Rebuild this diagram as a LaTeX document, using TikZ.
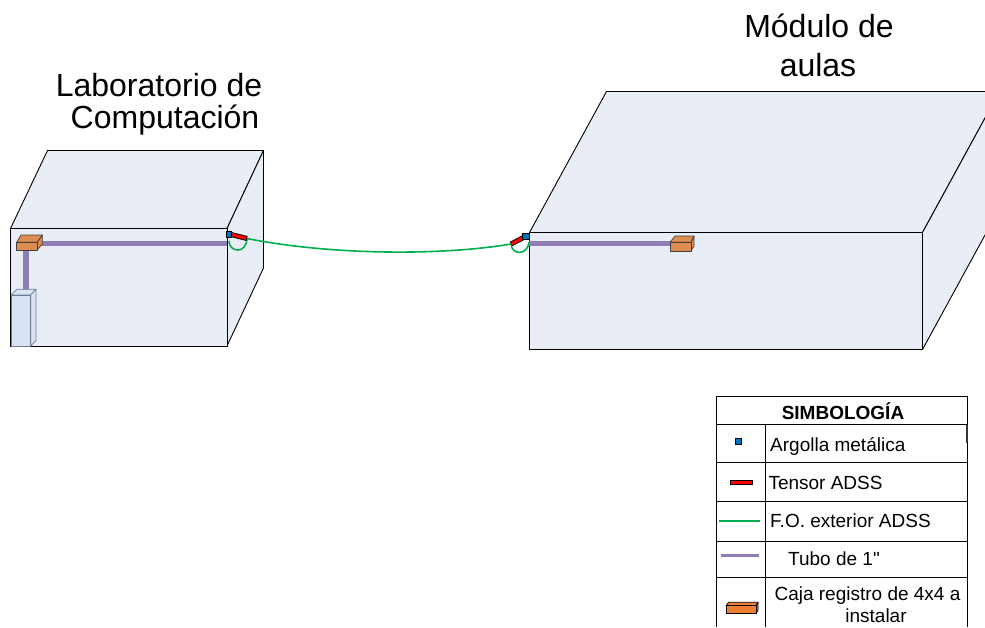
\documentclass[tikz,border=0pt]{standalone}
\usepackage{fontspec}
\setmainfont{Liberation Sans}
\newfontfamily\plainsans{Liberation Sans}[Ligatures=TeXOff]
\usetikzlibrary{calc}
\definecolor{boxfill}{RGB}{233,238,246}
\definecolor{tubepurple}{RGB}{143,126,180}
\definecolor{fibergreen}{RGB}{0,176,80}
\definecolor{cajaorange}{RGB}{222,140,80}
\definecolor{legorange}{RGB}{237,125,49}
\definecolor{ringblue}{RGB}{0,112,192}
\definecolor{rackfill}{RGB}{218,227,243}
\definecolor{rackedge}{RGB}{110,125,150}
\begin{document}
\begin{tikzpicture}[x=1pt,y=-1pt,
  wall/.style={draw=black,fill=boxfill,line width=0.9pt,line join=round},
  tube/.style={draw=tubepurple,line width=5.3pt},
  fiber/.style={draw=fibergreen,line width=1.6pt},
  caja/.style={draw=black!75,fill=cajaorange,line width=0.7pt,line join=round},
  rack/.style={draw=rackedge,fill=rackfill,line width=0.7pt,line join=round},
  ring/.style={draw=black,fill=ringblue,line width=0.6pt},
  tensorout/.style={draw=black,line width=5pt},
  tensorin/.style={draw=red,line width=3.2pt},
  grid/.style={draw=black,line width=0.8pt},
  title/.style={font=\fontsize{32}{32}\selectfont,anchor=base,inner sep=0pt},
  legtext/.style={font=\fontsize{19}{19}\selectfont,anchor=base west,inner sep=0pt},
]
\useasboundingbox (0,0) rectangle (985,627);

% ---- Laboratorio de Computación (left building)
\draw[wall] (10.5,228.5) -- (47.5,150.5) -- (263.5,150.5) -- (227,228.5) -- cycle;
\draw[wall] (227,228.5) -- (263.5,150.5) -- (263.5,268) -- (227,346) -- cycle;
\draw[wall] (10.5,228.5) rectangle (227,346);

% conduit inside the lab
\draw[tube] (37,243.5) -- (227,243.5);
\draw[tube] (26,249) -- (26,292);
% junction box
\draw[caja] (16.7,242.3) -- (21,235) -- (42.3,235) -- (37.3,242.3) -- cycle;
\draw[caja] (37.3,242.3) -- (42.3,235) -- (42.3,244) -- (37.3,250) -- cycle;
\draw[caja] (16.7,242.3) rectangle (37.3,250);
% rack cabinet
\draw[rack] (11,295) -- (16.7,289.3) -- (36,289.3) -- (30.7,295) -- cycle;
\draw[rack] (30.7,295) -- (36,289.3) -- (36,340.7) -- (30.7,346) -- cycle;
\draw[rack] (11,295) rectangle (30.7,346);

% ---- Módulo de aulas (right building)
\draw[wall] (529.5,232.5) -- (606.5,91.5) -- (999.5,91.5) -- (922.5,232.5) -- cycle;
\draw[wall] (922.5,232.5) -- (999.5,91.5) -- (999.5,208.5) -- (922.5,349.5) -- cycle;
\draw[wall] (529.5,232.5) rectangle (922.5,349.5);

\draw[tube] (529,243.5) -- (671,243.5);
\draw[caja] (670,242.3) -- (675,236) -- (694,236) -- (691,242.3) -- cycle;
\draw[caja] (691,242.3) -- (694,236) -- (694,246) -- (691,251) -- cycle;
\draw[caja] (670,242.3) rectangle (691,251);

% ---- anchoring points of the aerial fibre
\coordinate (ringL) at (229,234);
\coordinate (tensL) at (247,238.5);
\coordinate (ringR) at (525.5,236.5);
\coordinate (tensR) at (511,244);

% fibre span with slack loops
\draw[fiber] (tensL) .. controls (330,255) and (440,256) .. (tensR);
\draw[fiber] (tensL) .. controls (246,255) and (229,252) .. (229,241);
\draw[fiber] (tensR) .. controls (512,256) and (528,255) .. (529,242);

% tensors
\draw[tensorout] (ringL) -- (tensL);
\draw[tensorin] ($(ringL)!0.06!(tensL)$) -- ($(ringL)!0.96!(tensL)$);
\draw[tensorout] (ringR) -- (tensR);
\draw[tensorin] ($(ringR)!0.06!(tensR)$) -- ($(ringR)!0.96!(tensR)$);

% metal rings
\draw[ring] (226.5,231) rectangle (231.5,237);
\draw[ring] (522,233.5) rectangle (529,239.5);

% ---- titles
\node[title] (labA) at (159,96) {Laboratorio de};
\node[title] (labB) at (165,128) {Computación};
\node[title] (audA) at (819,37.5) {Módulo de};
\node[title] (audB) at (818,76) {aulas};

% ---- legend table
\draw[grid] (716,396) -- (967,396);
\draw[grid] (716,396) -- (716,627);
\draw[grid] (967,396) -- (967,627);
\draw[grid] (716,424.3) -- (967,424.3);
\draw[grid] (716,462.7) -- (967,462.7);
\draw[grid] (716,501.7) -- (967,501.7);
\draw[grid] (716,541.7) -- (967,541.7);
\draw[grid] (716,577.3) -- (967,577.3);
\draw[grid] (765,424.3) -- (765,627);
\draw[draw=black!80,line width=2.2pt] (967,425) -- (967,443);

\node[font=\bfseries\fontsize{19}{19}\selectfont,anchor=base,inner sep=0pt] (legH) at (843,419) {SIMBOLOGÍA};

% legend symbols
\draw[ring] (735.5,438.5) rectangle (741,444);
\draw[draw=black,line width=4.6pt] (729.5,482.7) -- (753.3,482.7);
\draw[draw=red,line width=2.8pt] (730.5,482.7) -- (752.3,482.7);
\draw[fiber] (719.3,521) -- (760,521);
\draw[draw=tubepurple,line width=3pt] (720.7,555.7) -- (759.3,555.7);
\draw[draw=black,fill=legorange,line width=0.7pt,line join=round] (726,605.7) -- (728.5,602.3) -- (758,602.3) -- (756,605.7) -- cycle;
\draw[draw=black,fill=legorange,line width=0.7pt,line join=round] (756,605.7) -- (758,602.3) -- (758,610.5) -- (756,613.3) -- cycle;
\draw[draw=black,fill=legorange,line width=0.7pt] (726,605.7) rectangle (756,613.3);

% legend labels
\node[legtext] (l1) at (770,451) {Argolla metálica};
\node[legtext] (l2) at (768.3,489.3) {Tensor ADSS};
\node[legtext] (l3) at (770,527.3) {F.O. exterior ADSS};
\node[legtext] (l4) at (788,565) {\plainsans Tubo de 1"};
\node[legtext,anchor=base] (l5) at (867.5,600.7) {Caja registro de 4x4 a};
\node[legtext,anchor=base] (l6) at (876,622.3) {instalar};
\end{tikzpicture}
\end{document}
